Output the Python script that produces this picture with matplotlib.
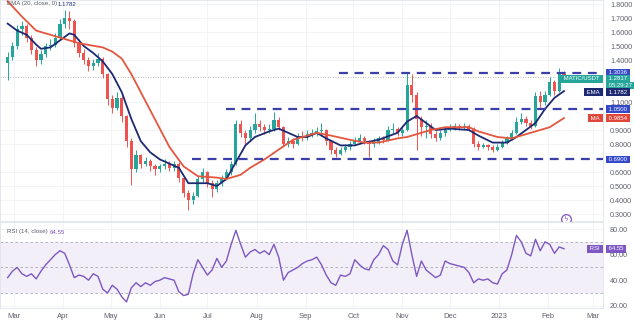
import numpy as np
import pandas as pd
import matplotlib
matplotlib.use('Agg')
import matplotlib.pyplot as plt
import matplotlib.dates as mdates
import matplotlib.transforms as mtransforms

# MATIC/USDT, 3-day candles starting 2022-02-25
start = '2022-02-25'
first_open = 1.38
closes = [1.42, 1.50, 1.62, 1.64, 1.56, 1.47, 1.40, 1.44, 1.50, 1.51,
          1.56, 1.66, 1.70, 1.68, 1.52, 1.45, 1.40, 1.36, 1.38, 1.41,
          1.30, 1.12, 1.06, 1.13, 1.00, 0.82, 0.62, 0.72, 0.66, 0.68,
          0.64, 0.62, 0.64, 0.66, 0.63, 0.66, 0.56, 0.45, 0.40, 0.43,
          0.55, 0.60, 0.52, 0.48, 0.52, 0.56, 0.60, 0.66, 0.94, 0.88,
          0.84, 0.90, 0.94, 0.92, 0.90, 0.91, 0.97, 0.92, 0.80, 0.82,
          0.80, 0.86, 0.85, 0.87, 0.88, 0.89, 0.90, 0.82, 0.76, 0.73,
          0.76, 0.78, 0.80, 0.82, 0.84, 0.82, 0.80, 0.81, 0.84, 0.83,
          0.90, 0.91, 0.88, 0.90, 1.22, 1.15, 0.98, 0.92, 0.93, 0.87,
          0.84, 0.88, 0.90, 0.92, 0.93, 0.92, 0.93, 0.91, 0.80, 0.78,
          0.79, 0.78, 0.76, 0.78, 0.81, 0.84, 0.88, 0.96, 0.98, 0.95,
          0.93, 1.14, 1.10, 1.15, 1.24, 1.18, 1.30, 1.2817]
highs = [1.46, 1.53, 1.65, 1.68, 1.66, 1.58, 1.49, 1.47, 1.52, 1.55,
         1.59, 1.69, 1.76, 1.75, 1.69, 1.55, 1.48, 1.42, 1.41, 1.45,
         1.42, 1.31, 1.15, 1.17, 1.14, 1.01, 0.84, 0.76, 0.73, 0.71,
         0.69, 0.66, 0.66, 0.69, 0.68, 0.68, 0.67, 0.57, 0.47, 0.46,
         0.57, 0.63, 0.61, 0.54, 0.54, 0.58, 0.62, 0.68, 0.97, 0.97,
         0.90, 0.93, 1.02, 0.97, 0.94, 0.94, 1.03, 0.99, 0.93, 0.85,
         0.84, 0.88, 0.89, 0.90, 0.91, 0.92, 0.95, 0.91, 0.83, 0.78,
         0.78, 0.80, 0.82, 0.85, 0.87, 0.86, 0.83, 0.84, 0.86, 0.86,
         0.93, 0.95, 0.92, 0.92, 1.31, 1.30, 1.17, 1.00, 0.97, 0.95,
         0.89, 0.90, 0.92, 0.94, 0.95, 0.94, 0.95, 0.94, 0.92, 0.82,
         0.81, 0.80, 0.79, 0.80, 0.83, 0.86, 0.90, 0.99, 1.02, 1.00,
         0.97, 1.17, 1.18, 1.18, 1.28, 1.26, 1.34, 1.32]
lows = [1.26, 1.40, 1.48, 1.58, 1.53, 1.44, 1.36, 1.37, 1.42, 1.47,
        1.49, 1.54, 1.63, 1.62, 1.49, 1.42, 1.37, 1.32, 1.33, 1.36,
        1.27, 1.08, 1.02, 1.04, 0.96, 0.78, 0.51, 0.60, 0.63, 0.64,
        0.61, 0.58, 0.60, 0.62, 0.61, 0.61, 0.53, 0.42, 0.33, 0.37,
        0.42, 0.53, 0.49, 0.42, 0.46, 0.50, 0.54, 0.58, 0.65, 0.85,
        0.80, 0.82, 0.88, 0.89, 0.87, 0.88, 0.89, 0.90, 0.78, 0.78,
        0.77, 0.79, 0.82, 0.83, 0.85, 0.86, 0.86, 0.79, 0.73, 0.71,
        0.72, 0.74, 0.76, 0.79, 0.81, 0.80, 0.71, 0.78, 0.80, 0.81,
        0.82, 0.88, 0.86, 0.86, 0.89, 1.10, 0.76, 0.86, 0.84, 0.84,
        0.82, 0.83, 0.86, 0.89, 0.90, 0.90, 0.91, 0.89, 0.78, 0.76,
        0.77, 0.76, 0.74, 0.75, 0.77, 0.80, 0.83, 0.87, 0.94, 0.93,
        0.91, 0.92, 1.06, 1.08, 1.14, 1.15, 1.17, 1.24]

# EMA 20 and MA 50 at candle indices
ema_idx = [0, 2, 4, 6, 7, 9, 11, 13, 14, 16, 18, 20, 22, 24, 26, 28, 30, 32, 34, 36,
           38, 40, 42, 44, 46, 48, 50, 52, 55, 57, 59, 61, 63, 65, 67, 70, 73, 75, 78,
           82, 84, 86, 88, 90, 93, 97, 99, 102, 105, 107, 109, 111, 113, 115, 117]
ema_vals = [1.66, 1.61, 1.58, 1.51, 1.48, 1.49, 1.54, 1.59, 1.58, 1.50, 1.45, 1.39,
            1.30, 1.17, 0.98, 0.82, 0.74, 0.69, 0.66, 0.63, 0.52, 0.52, 0.52, 0.50,
            0.55, 0.67, 0.79, 0.85, 0.89, 0.91, 0.88, 0.85, 0.85, 0.88, 0.84, 0.79,
            0.79, 0.81, 0.83, 0.88, 0.96, 1.00, 0.95, 0.90, 0.91, 0.90, 0.86, 0.81,
            0.81, 0.85, 0.90, 0.95, 1.05, 1.13, 1.1782]
sma_idx = [0, 3, 6, 9, 13, 15, 20, 22, 24, 26, 28, 30, 32, 34, 37, 40, 44, 46, 49, 51,
           54, 57, 60, 63, 65, 68, 72, 75, 78, 82, 84, 89, 92, 97, 99, 103, 106, 109,
           111, 114, 117]
sma_vals = [1.82, 1.71, 1.61, 1.58, 1.54, 1.52, 1.49, 1.46, 1.41, 1.30, 1.17, 1.04,
            0.91, 0.78, 0.64, 0.57, 0.56, 0.55, 0.58, 0.63, 0.69, 0.76, 0.83, 0.86,
            0.88, 0.86, 0.83, 0.81, 0.81, 0.84, 0.85, 0.90, 0.92, 0.92, 0.89, 0.85,
            0.84, 0.87, 0.89, 0.92, 0.9854]

rsi_vals = [42, 47, 50, 45, 43, 45, 41, 47, 52, 56,
            60, 63, 61, 52, 42, 44, 43, 40, 45, 43,
            33, 30, 36, 33, 27, 23, 34, 38, 35, 38,
            36, 39, 40, 42, 41, 40, 31, 28, 29, 45,
            56, 50, 44, 48, 57, 50, 55, 68, 79, 68,
            58, 62, 64, 61, 63, 60, 68, 58, 40, 46,
            48, 50, 53, 55, 56, 58, 52, 44, 38, 36,
            44, 43, 45, 56, 52, 49, 48, 56, 60, 67,
            64, 55, 52, 68, 79, 60, 43, 55, 48, 45,
            42, 44, 55, 53, 52, 51, 50, 46, 38, 41,
            40, 41, 38, 37, 45, 48, 60, 75, 70, 61,
            59, 72, 63, 70, 68, 61, 66, 64.55]

levels = [1.3036, 1.0500, 0.6900]
level_from = ['2022-09-22', '2022-07-13', '2022-06-21']

month_ticks = ['2022-03-01', '2022-04-01', '2022-05-01', '2022-06-01', '2022-07-01',
               '2022-08-01', '2022-09-01', '2022-10-01', '2022-11-01', '2022-12-01',
               '2023-01-01', '2023-02-01', '2023-03-01']
month_labels = ['Mar', 'Apr', 'May', 'Jun', 'Jul', 'Aug', 'Sep', 'Oct', 'Nov', 'Dec',
                '2023', 'Feb', 'Mar']
price_ticks = [1.8, 1.7, 1.6, 1.5, 1.4, 1.1, 0.9, 0.8, 0.6, 0.5, 0.4, 0.3]
rsi_ticks = [80, 60, 40, 20]

GREEN = '#26a69a'
RED = '#ef5350'
NAVY = '#1d2a72'
ORANGE = '#e4573f'
LEVEL = '#3b3fa8'
BLUE = '#3448c8'
PURPLE = '#7e57c2'
LABEL = '#5d606b'
GRID = '#f0f2f6'

W, H = 634, 335


def px_box(l, t, r, b):
    return [l / W, 1 - b / H, (r - l) / W, (b - t) / H]


def py(ypix):
    # price at a pixel row of the price pane (0.25 .. 1.8286 over 0..221 px)
    return 1.8286 - ypix * (1.8286 - 0.250) / 221


if __name__ == '__main__':
    plt.rcParams['font.family'] = ['Liberation Sans', 'DejaVu Sans']
    fig = plt.figure(figsize=(6.34, 3.35), dpi=100)
    ax = fig.add_axes(px_box(0, 0, 603, 221))
    ax2 = fig.add_axes(px_box(0, 222, 603, 308), sharex=ax)

    x = mdates.date2num(pd.date_range(start, periods=len(closes), freq='3D'))
    c = np.array(closes)
    o = np.array([first_open] + closes[:-1])
    col = np.where(c >= o, GREEN, RED)

    day0 = mdates.date2num(pd.Timestamp('2022-03-01'))
    ax.set_xlim(day0 - 8.83, day0 + 371.6)
    ax.set_ylim(0.250, 1.8286)
    ax2.set_ylim(18.28, 85.47)

    # candles
    ax.vlines(x, lows, highs, colors=col, lw=0.7, zorder=2)
    ax.bar(x, np.maximum(np.abs(c - o), 0.005), bottom=np.minimum(o, c), width=2.0,
           color=col, linewidth=0, zorder=3)

    ax.plot(x[ema_idx], ema_vals, color=NAVY, lw=1.3, zorder=4)
    ax.plot(x[sma_idx], sma_vals, color=ORANGE, lw=1.3, zorder=4)

    xmax = ax.get_xlim()[1]
    for lvl, d in zip(levels, level_from):
        ax.hlines(lvl, mdates.date2num(pd.Timestamp(d)), xmax, colors=LEVEL, lw=1.6,
                  linestyles=(0, (4, 3)), zorder=5)
    ax.axhline(closes[-1], color='#a0a4ad', lw=0.6, ls=(0, (1, 2)), zorder=1)

    mt = mdates.date2num(pd.to_datetime(month_ticks))
    for a in (ax, ax2):
        a.set_xticks(mt)
        a.grid(True, color=GRID, lw=0.6)
        a.set_axisbelow(True)
        for s in a.spines.values():
            s.set_color('#e0e3eb')
            s.set_linewidth(0.6)
        a.yaxis.tick_right()
        a.tick_params(axis='both', length=0, labelsize=5.2, labelcolor=LABEL)
    ax.tick_params(axis='x', labelbottom=False)
    ax2.set_xticklabels(month_labels)
    ax2.tick_params(axis='x', pad=3.5, labelsize=5.5)
    ax.set_yticks(price_ticks)
    ax.set_yticklabels(['%.4f' % t for t in price_ticks])
    ax.tick_params(axis='y', pad=5)
    ax2.set_yticks(rsi_ticks)
    ax2.set_yticklabels(['%.2f' % t for t in rsi_ticks])
    ax2.tick_params(axis='y', pad=5)
    # the 60.00 label sits just under the RSI tag
    ax2.get_yticklabels()[1].set_y(57.5)

    # RSI pane
    ax2.axhspan(30, 70, color=PURPLE, alpha=0.09, lw=0, zorder=0)
    for lvl in (70, 50, 30):
        ax2.axhline(lvl, color='#a7a9b3', lw=0.6, ls=(0, (3, 3)), zorder=1)
    ax2.plot(x, rsi_vals, color=PURPLE, lw=1.0, zorder=3)

    # value tags on the price scale
    tr = mtransforms.blended_transform_factory(ax.transAxes, ax.transData)
    tr2 = mtransforms.blended_transform_factory(ax2.transAxes, ax2.transData)

    def tag(a, t, y, s, fc, ha='left', xpos=1.0066):
        a.text(xpos, y, ' %s ' % s, transform=t, ha=ha, va='center', fontsize=4.3,
               color='white', bbox=dict(boxstyle='square,pad=0.22', fc=fc, ec='none'),
               clip_on=False, zorder=10)

    tag(ax, tr, py(72.5), '%.4f' % levels[0], BLUE)
    tag(ax, tr, py(79), '%.4f' % closes[-1], GREEN)
    tag(ax, tr, py(85.5), '05:29:27', GREEN)
    tag(ax, tr, py(79), 'MATIC/USDT', GREEN, ha='right', xpos=0.997)
    tag(ax, tr, py(92), '%.4f' % ema_vals[-1], NAVY)
    tag(ax, tr, py(92), 'EMA', NAVY, ha='right', xpos=0.997)
    tag(ax, tr, levels[1], '%.4f' % levels[1], BLUE)
    tag(ax, tr, sma_vals[-1], '%.4f' % sma_vals[-1], '#e0463a')
    tag(ax, tr, sma_vals[-1], 'MA', '#e0463a', ha='right', xpos=0.997)
    tag(ax, tr, levels[2], '%.4f' % levels[2], BLUE)
    tag(ax2, tr2, rsi_vals[-1], '%.2f' % rsi_vals[-1], PURPLE)
    tag(ax2, tr2, rsi_vals[-1], 'RSI', PURPLE, ha='right', xpos=0.997)

    # pane legends
    fig.text(7 / W, 1 - 4 / H, 'EMA (20, close, 0)', fontsize=4.4, color=LABEL, va='center')
    fig.text(58 / W, 1 - 4 / H, '%.4f' % ema_vals[-1], fontsize=4.4, color=NAVY, va='center')
    fig.text(7 / W, 1 - 232 / H, 'RSI (14, close)', fontsize=4.4, color=LABEL, va='center')
    fig.text(50 / W, 1 - 232 / H, '%.2f' % rsi_vals[-1], fontsize=4.4, color=PURPLE, va='center')

    # alert marker
    xm = mdates.date2num(pd.Timestamp('2023-02-12'))
    ax.plot([xm], [0.264], marker='o', ms=7, mfc='white', mec=PURPLE, mew=0.9,
            clip_on=False, zorder=11)
    ax.text(xm, 0.264, 'ϟ', ha='center', va='center', fontsize=5, color=PURPLE,
            family='DejaVu Sans', clip_on=False, zorder=12)

    fig.savefig('out.png', dpi=100)
